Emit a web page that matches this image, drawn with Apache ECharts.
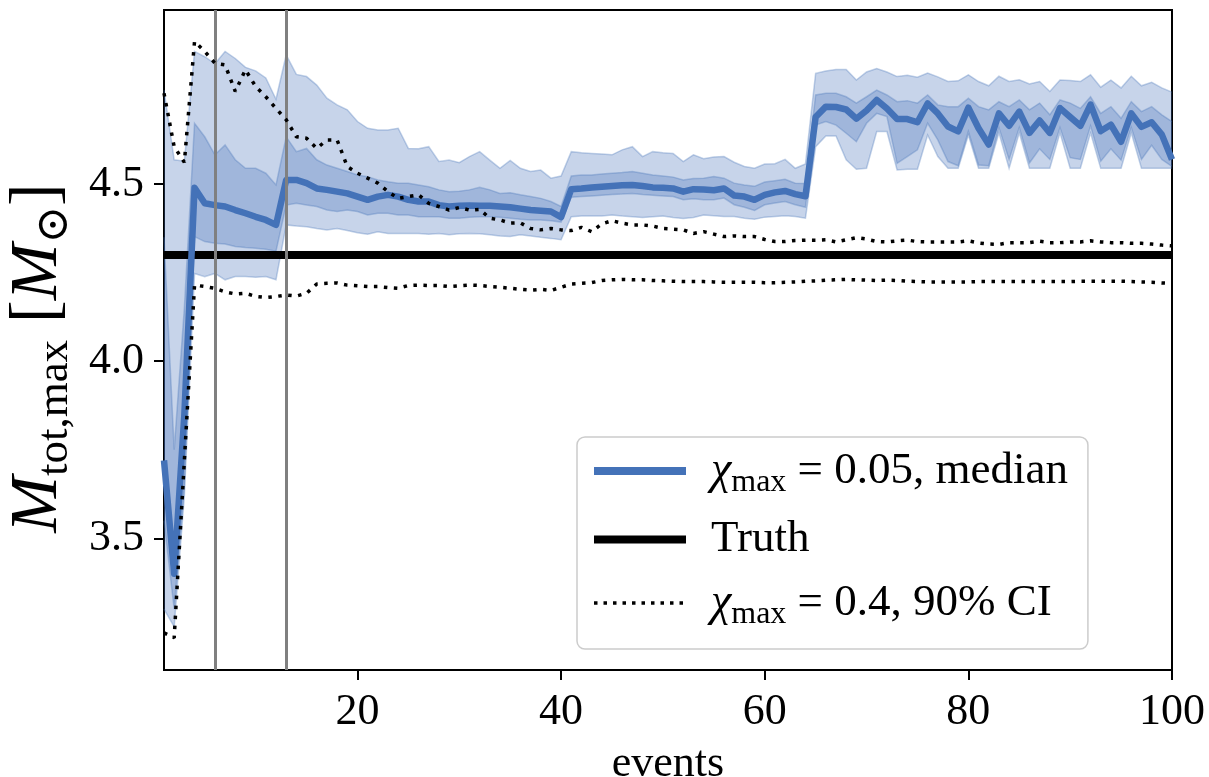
<!DOCTYPE html>
<html>
<head>
<meta charset="utf-8">
<script src="https://cdn.jsdelivr.net/npm/echarts@6/dist/echarts.min.js"></script>
<style>
  html, body { margin: 0; padding: 0; background: #fff; }
  #chart { width: 1209px; height: 777px; }
</style>
</head>
<body>
<div id="chart"></div>
<script>
// Number of detected events
const events = [
  1, 2, 3, 4, 5, 6, 7, 8, 9, 10, 11, 12, 13, 14, 15, 16, 17, 18, 19, 20,
  21, 22, 23, 24, 25, 26, 27, 28, 29, 30, 31, 32, 33, 34, 35, 36, 37, 38, 39, 40,
  41, 42, 43, 44, 45, 46, 47, 48, 49, 50, 51, 52, 53, 54, 55, 56, 57, 58, 59, 60,
  61, 62, 63, 64, 65, 66, 67, 68, 69, 70, 71, 72, 73, 74, 75, 76, 77, 78, 79, 80,
  81, 82, 83, 84, 85, 86, 87, 88, 89, 90, 91, 92, 93, 94, 95, 96, 97, 98, 99, 100
];

// chi_max = 0.05 posterior: median
const median = [
  3.72, 3.40, 3.85, 4.49, 4.446, 4.441, 4.437, 4.427, 4.418, 4.408,
  4.399, 4.385, 4.512, 4.512, 4.503, 4.488, 4.484, 4.479, 4.474, 4.465,
  4.456, 4.465, 4.47, 4.465, 4.456, 4.451, 4.451, 4.441, 4.437, 4.439,
  4.44, 4.439, 4.439, 4.437, 4.435, 4.431, 4.427, 4.425, 4.423, 4.407,
  4.486, 4.488, 4.491, 4.493, 4.495, 4.497, 4.498, 4.495, 4.491, 4.49,
  4.488, 4.479, 4.486, 4.485, 4.483, 4.488, 4.468, 4.465, 4.456, 4.47,
  4.477, 4.481, 4.472, 4.466, 4.69, 4.719, 4.718, 4.711, 4.685, 4.708,
  4.738, 4.714, 4.684, 4.684, 4.675, 4.728, 4.70, 4.663, 4.649, 4.716,
  4.658, 4.612, 4.70, 4.665, 4.705, 4.645, 4.68, 4.645, 4.715, 4.69,
  4.665, 4.725, 4.65, 4.668, 4.62, 4.70, 4.662, 4.675, 4.64, 4.57
];

// chi_max = 0.05 posterior: inner credible band
const innerHigh = [
  4.35, 3.75, 4.15, 4.672, 4.634, 4.583, 4.611, 4.569, 4.545, 4.545,
  4.531, 4.498, 4.634, 4.592, 4.601, 4.569, 4.554, 4.545, 4.536, 4.526,
  4.521, 4.512, 4.507, 4.503, 4.503, 4.498, 4.493, 4.484, 4.479, 4.48,
  4.484, 4.491, 4.484, 4.474, 4.476, 4.47, 4.465, 4.46, 4.451, 4.437,
  4.523, 4.526, 4.526, 4.529, 4.531, 4.533, 4.536, 4.531, 4.526, 4.523,
  4.52, 4.512, 4.516, 4.517, 4.522, 4.517, 4.503, 4.498, 4.494, 4.506,
  4.51, 4.514, 4.503, 4.502, 4.752, 4.757, 4.757, 4.747, 4.729, 4.747,
  4.766, 4.752, 4.733, 4.736, 4.729, 4.752, 4.724, 4.719, 4.719, 4.743,
  4.719, 4.71, 4.733, 4.719, 4.738, 4.71, 4.729, 4.696, 4.738, 4.729,
  4.714, 4.747, 4.70, 4.719, 4.686, 4.733, 4.705, 4.719, 4.696, 4.677
];
const innerLow = [
  3.55, 3.30, 3.65, 4.352, 4.338, 4.333, 4.331, 4.324, 4.321, 4.319,
  4.316, 4.311, 4.441, 4.446, 4.441, 4.437, 4.427, 4.423, 4.427, 4.423,
  4.413, 4.418, 4.418, 4.413, 4.413, 4.408, 4.408, 4.408, 4.404, 4.404,
  4.407, 4.408, 4.408, 4.407, 4.404, 4.401, 4.399, 4.399, 4.397, 4.393,
  4.463, 4.465, 4.467, 4.469, 4.471, 4.472, 4.474, 4.471, 4.469, 4.467,
  4.465, 4.456, 4.459, 4.456, 4.456, 4.461, 4.442, 4.435, 4.426, 4.442,
  4.447, 4.451, 4.442, 4.435, 4.667, 4.677, 4.667, 4.644, 4.62, 4.672,
  4.70, 4.691, 4.559, 4.578, 4.597, 4.672, 4.625, 4.564, 4.552, 4.649,
  4.554, 4.552, 4.66, 4.57, 4.66, 4.56, 4.60, 4.57, 4.66, 4.575,
  4.57, 4.665, 4.565, 4.60, 4.568, 4.66, 4.57, 4.61, 4.57, 4.55
];

// chi_max = 0.05 posterior: outer credible band
const outerHigh = [
  4.766, 4.569, 4.565, 4.875, 4.86, 4.84, 4.875, 4.855, 4.83, 4.82,
  4.80, 4.74, 4.865, 4.81, 4.804, 4.78, 4.743, 4.724, 4.71, 4.677,
  4.658, 4.653, 4.653, 4.658, 4.601, 4.60, 4.606, 4.564, 4.568, 4.561,
  4.578, 4.592, 4.568, 4.545, 4.567, 4.545, 4.536, 4.54, 4.517, 4.523,
  4.592, 4.589, 4.587, 4.585, 4.583, 4.597, 4.606, 4.578, 4.592, 4.589,
  4.587, 4.564, 4.583, 4.572, 4.577, 4.578, 4.562, 4.55, 4.545, 4.557,
  4.558, 4.57, 4.545, 4.557, 4.813, 4.82, 4.824, 4.824, 4.794, 4.817,
  4.827, 4.817, 4.804, 4.808, 4.802, 4.814, 4.803, 4.79, 4.792, 4.809,
  4.79, 4.778, 4.805, 4.79, 4.795, 4.783, 4.79, 4.762, 4.794, 4.793,
  4.79, 4.809, 4.774, 4.794, 4.772, 4.805, 4.778, 4.788, 4.772, 4.76
];
const outerLow = [
  3.30, 3.25, 3.62, 4.248, 4.239, 4.248, 4.23, 4.239, 4.239, 4.237,
  4.239, 4.23, 4.385, 4.382, 4.38, 4.375, 4.371, 4.375, 4.369, 4.363,
  4.359, 4.366, 4.361, 4.361, 4.361, 4.361, 4.359, 4.361, 4.357, 4.36,
  4.361, 4.36, 4.357, 4.354, 4.352, 4.357, 4.354, 4.35, 4.347, 4.343,
  4.408, 4.41, 4.411, 4.41, 4.413, 4.41, 4.408, 4.406, 4.408, 4.41,
  4.406, 4.403, 4.406, 4.413, 4.411, 4.409, 4.409, 4.404, 4.401, 4.407,
  4.409, 4.411, 4.409, 4.404, 4.606, 4.636, 4.636, 4.569, 4.542, 4.545,
  4.649, 4.649, 4.54, 4.542, 4.542, 4.639, 4.578, 4.545, 4.545, 4.639,
  4.545, 4.545, 4.645, 4.545, 4.645, 4.545, 4.545, 4.545, 4.645, 4.545,
  4.545, 4.645, 4.545, 4.545, 4.545, 4.645, 4.545, 4.545, 4.545, 4.545
];

// chi_max = 0.4 posterior: 90% credible interval bounds
const ciHigh = [
  4.757, 4.606, 4.562, 4.903, 4.875, 4.842, 4.837, 4.762, 4.823, 4.776,
  4.747, 4.714, 4.682, 4.634, 4.63, 4.601, 4.625, 4.625, 4.55, 4.531,
  4.517, 4.503, 4.479, 4.46, 4.465, 4.47, 4.446, 4.437, 4.427, 4.434,
  4.427, 4.429, 4.404, 4.399, 4.39, 4.391, 4.375, 4.371, 4.375, 4.371,
  4.369, 4.378, 4.366, 4.388, 4.397, 4.39, 4.385, 4.385, 4.382, 4.375,
  4.373, 4.371, 4.361, 4.366, 4.359, 4.352, 4.354, 4.352, 4.352, 4.344,
  4.338, 4.338, 4.341, 4.342, 4.342, 4.343, 4.337, 4.343, 4.349, 4.345,
  4.338, 4.337, 4.34, 4.342, 4.338, 4.337, 4.337, 4.337, 4.337, 4.34,
  4.334, 4.331, 4.33, 4.335, 4.335, 4.335, 4.339, 4.335, 4.335, 4.337,
  4.337, 4.34, 4.337, 4.335, 4.335, 4.333, 4.333, 4.331, 4.328, 4.326
];
const ciLow = [
  3.233, 3.219, 3.72, 4.215, 4.211, 4.206, 4.196, 4.19, 4.192, 4.183,
  4.18, 4.183, 4.187, 4.184, 4.192, 4.218, 4.22, 4.221, 4.215, 4.213,
  4.211, 4.211, 4.208, 4.206, 4.214, 4.215, 4.214, 4.214, 4.211, 4.213,
  4.215, 4.214, 4.211, 4.209, 4.206, 4.203, 4.201, 4.203, 4.20, 4.209,
  4.218, 4.22, 4.222, 4.228, 4.23, 4.231, 4.23, 4.23, 4.228, 4.227,
  4.226, 4.225, 4.225, 4.225, 4.224, 4.223, 4.223, 4.223, 4.223, 4.222,
  4.222, 4.223, 4.224, 4.226, 4.227, 4.229, 4.23, 4.231, 4.23, 4.229,
  4.228, 4.229, 4.228, 4.226, 4.225, 4.224, 4.224, 4.224, 4.224, 4.224,
  4.225, 4.225, 4.225, 4.225, 4.225, 4.225, 4.225, 4.225, 4.225, 4.225,
  4.226, 4.226, 4.226, 4.226, 4.226, 4.225, 4.224, 4.223, 4.221, 4.22
];

// True value and highlighted event counts
const truthValue = 4.3;
const markerEvents = [6, 13];

// Axis ticks
const xTicks = [20, 40, 60, 80, 100];
const yTicks = [3.5, 4.0, 4.5];

const medianName = 'χmax = 0.05, median';
const truthName = 'Truth';
const ciName = 'χmax = 0.4, 90% CI';

const BLUE = '#4472b8';
const BAND_FILL = 'rgba(68,114,184,0.30)';
const BAND_EDGE = 'rgba(68,114,184,0.32)';
const SERIF = '"Liberation Serif", "DejaVu Serif", serif';

const pairs = (ys) => events.map((x, i) => [x, ys[i]]);

// Filled band between two bounds, drawn once as a single polygon
function bandSeries(lo, hi) {
  return {
    type: 'custom',
    silent: true,
    z: 1,
    data: events.map((x, i) => [x, lo[i], hi[i]]),
    encode: { x: 0, y: [1, 2] },
    renderItem: function (params, api) {
      if (params.dataIndex !== 0) return null;
      const top = events.map((x, i) => api.coord([x, hi[i]]));
      const bot = events.map((x, i) => api.coord([x, lo[i]]));
      const outline = top.concat(bot.slice().reverse());
      return {
        type: 'group',
        children: [
          { type: 'polygon', shape: { points: outline }, style: { fill: BAND_FILL, stroke: null } },
          { type: 'polyline', shape: { points: top }, style: { fill: null, stroke: BAND_EDGE, lineWidth: 1.5 } },
          { type: 'polyline', shape: { points: bot }, style: { fill: null, stroke: BAND_EDGE, lineWidth: 1.5 } }
        ]
      };
    }
  };
}

const chart = echarts.init(document.getElementById('chart'), null, { renderer: 'canvas' });

const richLegend = {
  chi: { fontFamily: SERIF, fontStyle: 'italic', fontSize: 46, color: '#000', lineHeight: 56, verticalAlign: 'middle' },
  sub: { fontFamily: SERIF, fontSize: 32, color: '#000', lineHeight: 56, verticalAlign: 'bottom' },
  t: { fontFamily: SERIF, fontSize: 45, color: '#000', lineHeight: 56, verticalAlign: 'middle' }
};

const outerBand = bandSeries(outerLow, outerHigh);
const innerBand = bandSeries(innerLow, innerHigh);
// vertical markers for selected event counts
innerBand.markLine = {
  silent: true,
  symbol: 'none',
  label: { show: false },
  lineStyle: { color: '#808080', width: 3, type: 'solid' },
  data: markerEvents.map((x) => ({ xAxis: x }))
};

const hiddenSymbol = { opacity: 0, borderWidth: 0 };

chart.setOption({
  animation: false,
  backgroundColor: '#fff',
  grid: {
    left: 164, right: 37, top: 10, bottom: 107,
    containLabel: false,
    outerBoundsMode: 'none',
    show: true, borderColor: '#000', borderWidth: 2, backgroundColor: 'transparent'
  },
  xAxis: {
    type: 'value', min: 1, max: 100,
    name: 'events', nameLocation: 'middle', nameGap: 72,
    nameTextStyle: { fontFamily: SERIF, fontSize: 44, color: '#000' },
    axisLine: { show: true, lineStyle: { color: '#000', width: 2 } },
    axisTick: { show: true, inside: false, length: 10, lineStyle: { color: '#000', width: 2 }, customValues: xTicks },
    axisLabel: { customValues: xTicks, margin: 20, fontFamily: SERIF, fontSize: 44, color: '#000' },
    splitLine: { show: false }
  },
  yAxis: {
    type: 'value', min: 3.128, max: 4.992,
    name: '{M|M}{s|tot,max}{b| [}{M|M}{s|⊙}{b|]}',
    nameLocation: 'middle', nameRotate: 90, nameGap: 82,
    nameTextStyle: {
      padding: [0, 36, 0, 0],
      rich: {
        M: { fontFamily: SERIF, fontStyle: 'italic', fontSize: 68, color: '#000', lineHeight: 80, verticalAlign: 'middle' },
        s: { fontFamily: SERIF, fontSize: 45, color: '#000', lineHeight: 80, verticalAlign: 'bottom' },
        b: { fontFamily: SERIF, fontSize: 68, color: '#000', lineHeight: 80, verticalAlign: 'middle' }
      }
    },
    axisLine: { show: true, lineStyle: { color: '#000', width: 2 } },
    axisTick: { show: true, inside: false, length: 10, lineStyle: { color: '#000', width: 2 }, customValues: yTicks },
    axisLabel: {
      customValues: yTicks, margin: 20, fontFamily: SERIF, fontSize: 44, color: '#000',
      formatter: (v) => v.toFixed(1)
    },
    splitLine: { show: false }
  },
  legend: {
    orient: 'vertical',
    left: 577, top: 437,
    padding: [11, 20, 18, 13],
    itemWidth: 92, itemHeight: 12, itemGap: 18,
    backgroundColor: '#fff',
    borderColor: '#cccccc', borderWidth: 1.5, borderRadius: 8,
    selectedMode: false,
    itemStyle: hiddenSymbol,
    textStyle: { padding: [0, 0, 0, 20], rich: richLegend },
    formatter: (name) => name.startsWith('χmax')
      ? '{chi|χ}{sub|max}{t|' + name.slice(4) + '}'
      : '{t|' + name + '}',
    data: [
      { name: medianName, itemStyle: hiddenSymbol, lineStyle: { width: 8, color: BLUE } },
      { name: truthName, itemStyle: hiddenSymbol, lineStyle: { width: 8, color: '#000' } },
      { name: ciName, itemStyle: hiddenSymbol, lineStyle: { width: 3.5, color: '#000', type: [3.5, 6] } }
    ]
  },
  series: [
    outerBand,
    innerBand,
    {
      name: truthName, type: 'line', z: 3, symbol: 'none', silent: true,
      data: [[events[0], truthValue], [events[events.length - 1], truthValue]],
      itemStyle: { color: '#000' },
      lineStyle: { color: '#000', width: 8 }
    },
    {
      name: medianName, type: 'line', z: 4, symbol: 'none', silent: true,
      data: pairs(median),
      itemStyle: { color: BLUE },
      lineStyle: { color: BLUE, width: 6.5, join: 'round' }
    },
    {
      name: ciName, type: 'line', z: 5, symbol: 'none', silent: true,
      data: pairs(ciHigh),
      itemStyle: { color: '#000' },
      lineStyle: { color: '#000', width: 3.5, type: [3.5, 6.5] }
    },
    {
      name: ciName, type: 'line', z: 5, symbol: 'none', silent: true,
      data: pairs(ciLow),
      itemStyle: { color: '#000' },
      lineStyle: { color: '#000', width: 3.5, type: [3.5, 6.5] }
    }
  ]
});
</script>
</body>
</html>
